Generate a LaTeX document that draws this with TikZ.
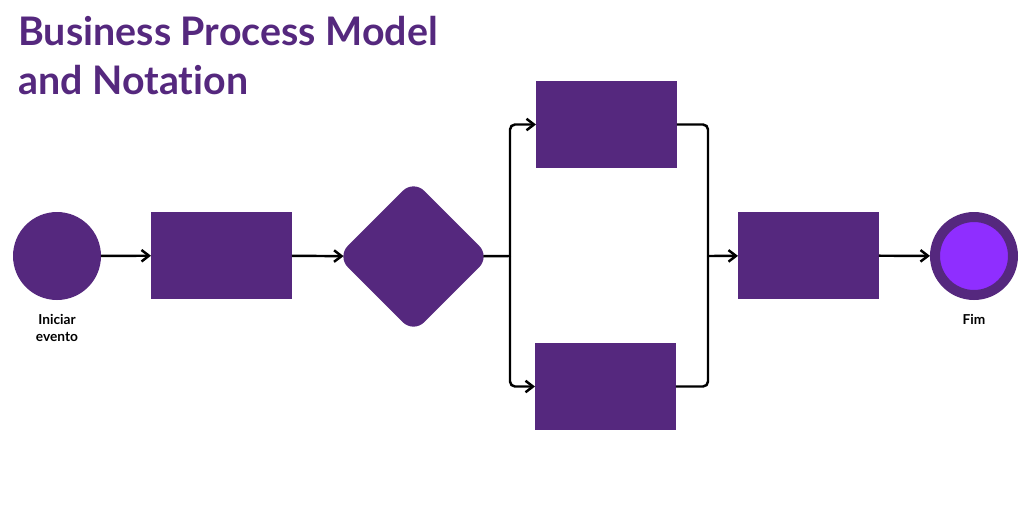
\documentclass[tikz,border=0pt]{standalone}
\usepackage{fontspec}
\setmainfont{Lato}[Ligatures=NoCommon]
\usepackage{xcolor}
\usepackage{tikz}
\usetikzlibrary{positioning,calc,arrows.meta}
\definecolor{bpmnPurple}{HTML}{55287E}
\definecolor{bpmnLight}{HTML}{8F2EFF}
\tikzstyle{task}   =[rectangle, fill=bpmnPurple, minimum width=2.82cm, minimum height=1.74cm, inner sep=0, outer sep=0]
\tikzstyle{gate}   =[rectangle, fill=bpmnPurple, minimum size=2.16cm, rounded corners=0.3cm, rotate=45, inner sep=0, outer sep=0]
\tikzstyle{startEv}=[circle, fill=bpmnPurple, minimum size=1.76cm, inner sep=0, outer sep=0]
\tikzstyle{endEv}  =[circle, fill=bpmnLight, draw=bpmnPurple, line width=0.2cm, minimum size=1.56cm, inner sep=0, outer sep=0.1cm]
\tikzstyle{flow}   =[line width=1.4pt, rounded corners=0.1cm, -{Straight Barb[length=1.5mm,width=2.3mm]}]
\tikzstyle{link}   =[line width=1.4pt, rounded corners=0.1cm]
\tikzstyle{lbl}    =[font=\fontsize{7.8}{9.7}\selectfont\bfseries, align=center, inner sep=0]
\tikzstyle{ttl}    =[font=\fontsize{22.4}{28}\selectfont\bfseries, text=bpmnPurple, inner sep=0, anchor=base west]

\begin{document}
\begin{tikzpicture}[x=0.02cm, y=-0.02cm]
        \useasboundingbox[fill=white] (0,0) rectangle (1024,512);
        \node[ttl] (title1) at (18,45) {Business Process Model};
        \node[ttl] (title2) at (18,94) {and Notation};
        \node[startEv] (start) at (57,256) {};
        \node[task] (b1) at (221.5,255.5) {};
        \node[gate] (gw) at (413.5,256.5) {};
        \node[task] (t1) at (606.5,124.5) {};
        \node[task] (t2) at (605.5,386.5) {};
        \node[task] (b4) at (808.5,255.5) {};
        \node[endEv] (end) at (974,256) {};
        \coordinate (split) at (510,256);
        \coordinate (join) at (708,256);
        \node[lbl, anchor=north] (lstart) at (57,314) {Iniciar\\evento};
        \node[lbl, anchor=north] (lend) at (974,314) {Fim};
        \draw[flow] (start) -- (b1);
        \draw[flow, shorten >=-0.12cm] (b1) -- (gw);
        \draw[link, shorten <=-0.12cm] (gw) -- (split);
        \draw[flow] (split) |- (t1);
        \draw[flow] (split) |- (t2);
        \draw[link] (t1) -| (join);
        \draw[link] (t2) -| (join);
        \draw[flow] (join) -- (b4);
        \draw[flow] (b4) -- (end);
      \end{tikzpicture}
\end{document}
